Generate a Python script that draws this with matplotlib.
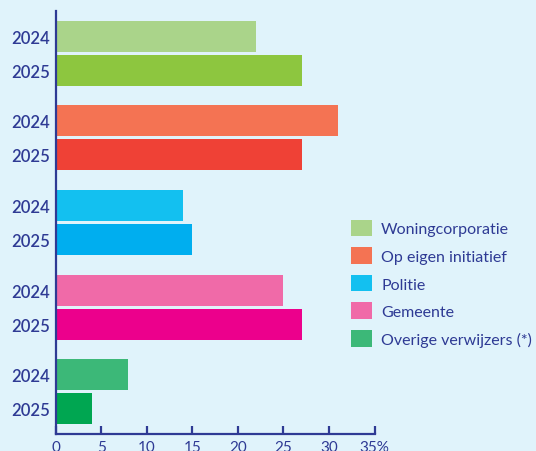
import matplotlib
matplotlib.use("Agg")
import matplotlib.pyplot as plt
from matplotlib.patches import Patch
import numpy as np

categories = ["Woningcorporatie", "Op eigen initiatief", "Politie", "Gemeente", "Overige verwijzers (*)"]
years = ["2024", "2025"]
values_2024 = [22, 31, 14, 25, 8]
values_2025 = [27, 27, 15, 27, 4]
colors_2024 = ["#aad48a", "#f47353", "#13c0f0", "#f06aa8", "#3cb878"]
colors_2025 = ["#8dc63f", "#ef4136", "#00aeef", "#ec008c", "#00a651"]
xticks = [0, 5, 10, 15, 20, 25, 30, 35]
xticklabels = ["0", "5", "10", "15", "20", "25", "30", "35%"]

bg = "#e0f3fb"
navy = "#2e3a94"
plt.rcParams['font.family'] = ["Lato", "DejaVu Sans"]

fig = plt.figure(figsize=(5.36, 4.52), dpi=100, facecolor=bg)
ax = fig.add_axes([55.5/536, 1-435/452, (374.5-55.5)/536, (435-12)/452])
ax.set_facecolor(bg)

g = np.arange(len(categories))
off = 0.201
h = 0.366
ax.barh(g - off, values_2024, height=h, color=colors_2024)
ax.barh(g + off, values_2025, height=h, color=colors_2025)

ax.set_xlim(0, 35)
ax.set_ylim(4.5, -0.5)
ax.set_xticks(xticks)
ax.set_xticklabels(xticklabels)
yt = np.concatenate([g - off, g + off])
ax.set_yticks(yt)
ax.set_yticklabels([years[0]] * len(g) + [years[1]] * len(g))

for s in ["top", "right"]:
    ax.spines[s].set_visible(False)
for s in ["left", "bottom"]:
    ax.spines[s].set_color(navy)
    ax.spines[s].set_linewidth(1.6)

ax.tick_params(axis="x", direction="in", length=6, width=1.6, color=navy,
               labelcolor=navy, labelsize=11, pad=4)
ax.tick_params(axis="y", length=0, labelcolor=navy, labelsize=12, pad=4)
for t in ax.get_yticklabels():
    t.set_fontweight("semibold")

handles = [Patch(facecolor=c, edgecolor="none") for c in colors_2024]
fig.legend(handles, categories, loc="upper left",
           bbox_to_anchor=(346/536, 1-216/452), frameon=False,
           fontsize=11.5, labelcolor=navy, handlelength=1.3, handleheight=1.22,
           handletextpad=0.6, labelspacing=0.68, borderaxespad=0, borderpad=0.3)

fig.savefig("out.png", dpi=100, facecolor=bg)
